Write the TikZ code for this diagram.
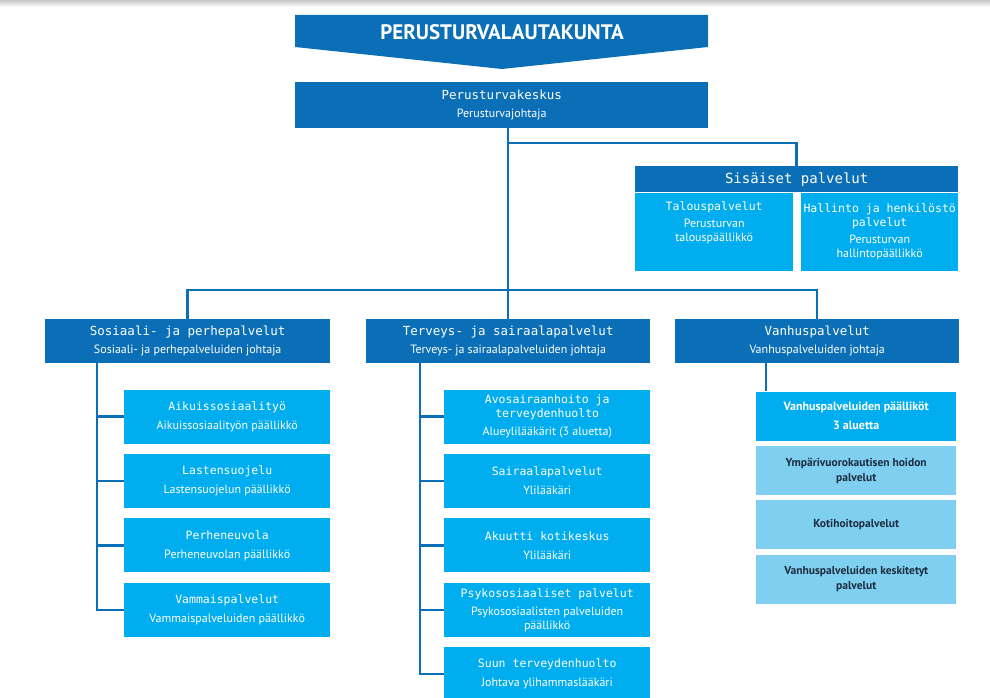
\documentclass[tikz,border=0pt]{standalone}
\usepackage{fontspec}
\usetikzlibrary{positioning,calc}
\setmainfont{PT Sans}
\newfontfamily\monofont{DejaVu Sans Mono}
\definecolor{ylasininen}{HTML}{0A6FB7}
\definecolor{syaani}{HTML}{00ADEE}
\definecolor{vaalea}{HTML}{7FCFF1}
\definecolor{tumma}{HTML}{1D2B3F}
\newcommand{\esimies}[1]{{\fontsize{12}{14}\selectfont\rmfamily #1}}

\begin{document}
\begin{tikzpicture}[x=1pt, y=1pt,
    every node/.style={align=center, inner sep=0pt, text=white},
    ylaotsikko/.style={fill=ylasininen, font=\fontsize{12.5}{16}\monofont},
    yksikko/.style={fill=syaani, minimum width=206pt, minimum height=54pt, font=\fontsize{11.5}{14}\monofont},
    sisainen/.style={fill=syaani, minimum height=78pt, font=\fontsize{11.5}{14}\monofont},
    vanhuspalvelu/.style={fill=vaalea, text=tumma, minimum width=200pt, minimum height=49pt,
      font=\fontsize{11.5}{15}\selectfont\bfseries},
    linja/.style={draw=ylasininen, line width=2.5pt}
  ]

  \useasboundingbox (0,0) rectangle (990,-698);
  \clip (0,0) rectangle (990,-698);
  \fill[top color=black!22, bottom color=white] (0,0) rectangle (990,-7);

  \fill[ylasininen] (295,-15) -- (708,-15) -- (708,-47) -- (502,-69) -- (295,-47) -- cycle;
  \node[font=\fontsize{21}{21}\selectfont\bfseries] (lautakunta) at (502,-32) {PERUSTURVALAUTAKUNTA};

  \node[ylaotsikko, minimum width=413pt, minimum height=46pt, anchor=north west] (keskus) at (295,-82)
    {Perusturvakeskus\\[2pt]\esimies{Perusturvajohtaja}};

  \node[ylaotsikko, minimum width=323pt, minimum height=26pt, anchor=north west,
    font=\fontsize{14}{16}\monofont] (sisaiset) at (635,-166) {Sisäiset palvelut};
  \node[sisainen, minimum width=158pt, text depth=20pt, below=0pt of sisaiset.south west, anchor=north west] (talous)
    {Talouspalvelut\\[3pt]\esimies{Perusturvan}\\\esimies{talouspäällikkö}};
  \node[sisainen, minimum width=157pt, below=0pt of sisaiset.south east, anchor=north east] (hallinto)
    {Hallinto ja henkilöstö\\palvelut\\[3pt]\esimies{Perusturvan}\\\esimies{hallintopäällikkö}};

  \node[ylaotsikko, minimum width=285pt, minimum height=44pt, anchor=north west] (sosiaali) at (45,-319)
    {Sosiaali- ja perhepalvelut\\[2pt]\esimies{Sosiaali- ja perhepalveluiden johtaja}};
  \node[ylaotsikko, minimum width=284pt, minimum height=44pt, anchor=north west] (terveys) at (366,-319)
    {Terveys- ja sairaalapalvelut\\[2pt]\esimies{Terveys- ja sairaalapalveluiden johtaja}};
  \node[ylaotsikko, minimum width=284pt, minimum height=44pt, anchor=north west] (vanhus) at (675,-319)
    {Vanhuspalvelut\\[2pt]\esimies{Vanhuspalveluiden johtaja}};

  \node[yksikko, below=26pt of sosiaali.south east, anchor=north east] (aikuis)
    {Aikuissosiaalityö\\[5pt]\esimies{Aikuissosiaalityön päällikkö}};
  \node[yksikko, below=10pt of aikuis] (lasten) {Lastensuojelu\\[5pt]\esimies{Lastensuojelun päällikkö}};
  \node[yksikko, below=10pt of lasten] (perhe) {Perheneuvola\\[5pt]\esimies{Perheneuvolan päällikkö}};
  \node[yksikko, below=10pt of perhe] (vammais) {Vammaispalvelut\\[5pt]\esimies{Vammaispalveluiden päällikkö}};

  \node[yksikko, below=26pt of terveys.south east, anchor=north east] (avo)
    {Avosairaanhoito ja\\terveydenhuolto\\[4pt]\esimies{Alueylilääkärit (3 aluetta)}};
  \node[yksikko, below=10pt of avo] (sairaala) {Sairaalapalvelut\\[5pt]\esimies{Ylilääkäri}};
  \node[yksikko, below=10pt of sairaala] (akuutti) {Akuutti kotikeskus\\[5pt]\esimies{Ylilääkäri}};
  \node[yksikko, below=10pt of akuutti] (psyko)
    {Psykososiaaliset palvelut\\[4pt]\esimies{Psykososiaalisten palveluiden}\\\esimies{päällikkö}};
  \node[yksikko, below=10pt of psyko] (suun) {Suun terveydenhuolto\\[5pt]\esimies{Johtava ylihammaslääkäri}};

  \node[vanhuspalvelu, fill=syaani, text=white, below=28pt of vanhus.south east, anchor=north east, xshift=-3pt] (paallikot)
    {\esimies{Vanhuspalveluiden päälliköt}\\[4pt]\esimies{3 aluetta}};
  \node[vanhuspalvelu, below=5pt of paallikot] (ymparivuoro) {Ympärivuorokautisen hoidon\\palvelut};
  \node[vanhuspalvelu, below=5pt of ymparivuoro] (kotihoito) {Kotihoitopalvelut};
  \node[vanhuspalvelu, below=5pt of kotihoito] (keskitetyt) {Vanhuspalveluiden keskitetyt\\palvelut};

  % yhteinen kisko kolmelle tulosalueelle, Sisäiset palvelut haarautuu ylempää
  \coordinate (haara) at (0,-143);
  \coordinate (kisko) at (0,-290);
  \coordinate (vjuuri) at ([xshift=10pt]paallikot.north west);
  \draw[linja] (keskus.south -| terveys.north) -- (terveys.north);
  \draw[linja] (haara -| terveys.north) -| (sisaiset.north);
  \draw[linja] (sosiaali.north) |- (kisko -| vanhus.north) -- (vanhus.north);

  \foreach \a in {aikuis, lasten, perhe, vammais}
    {\draw[linja] ([xshift=52pt]sosiaali.south west) |- (\a.west);}
  \foreach \a in {avo, sairaala, akuutti, psyko, suun}
    {\draw[linja] ([xshift=54pt]terveys.south west) |- (\a.west);}
  \draw[linja] (vjuuri |- vanhus.south) -- (vjuuri);

\end{tikzpicture}
\end{document}
